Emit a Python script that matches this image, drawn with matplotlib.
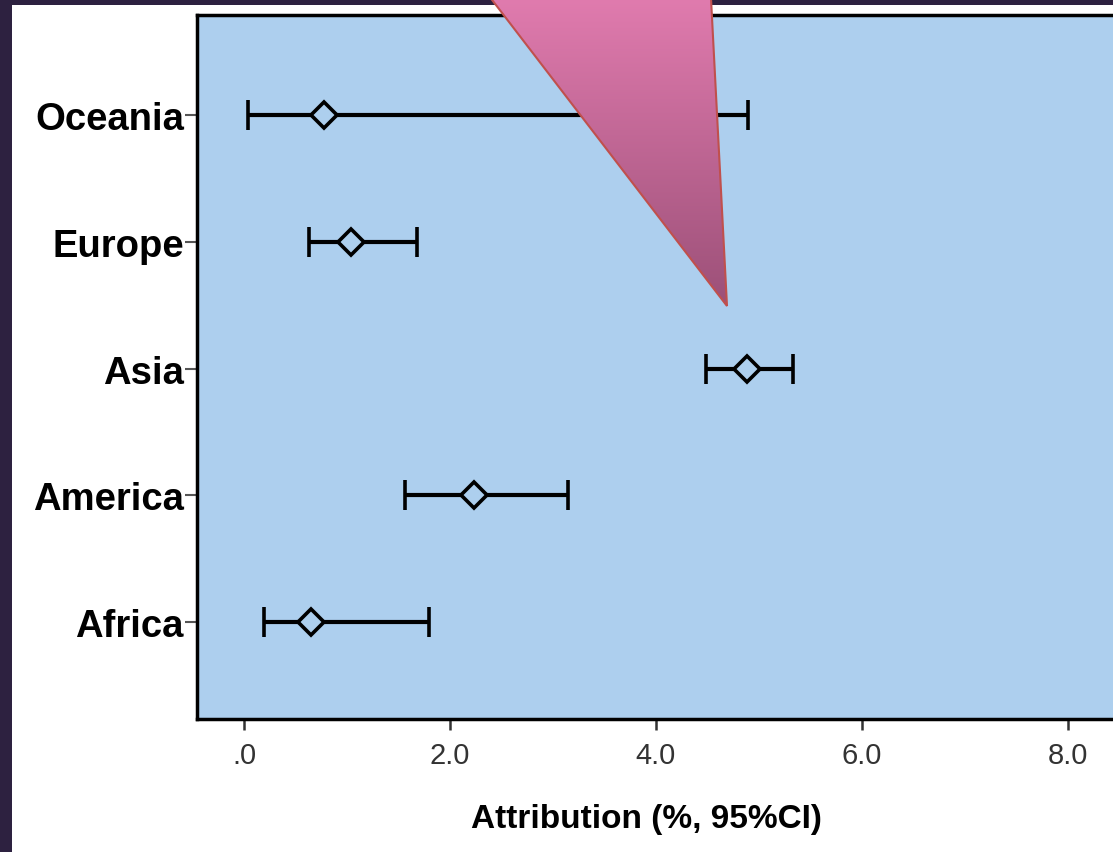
import matplotlib.pyplot as plt
import matplotlib.transforms as mtransforms
import numpy as np
from matplotlib.patches import Polygon, Rectangle

# ---------- data ----------
regions = ["Africa", "America", "Asia", "Europe", "Oceania"]
attribution = [0.65, 2.23, 4.89, 1.04, 0.78]
ci_low = [0.19, 1.56, 4.49, 0.63, 0.04]
ci_high = [1.80, 3.15, 5.33, 1.68, 4.90]
xticks = [0.0, 2.0, 4.0, 6.0, 8.0]
xtick_labels = [".0", "2.0", "4.0", "6.0", "8.0"]

W, H = 1113, 853
bg_blue = "#ADCFEE"

fig = plt.figure(figsize=(W / 100, H / 100), dpi=100)
fig.patch.set_facecolor("#2d2140")
fig.patches.append(Rectangle((12 / W, 0), 1 - 12 / W, 1 - 6 / H, transform=fig.transFigure,
                             facecolor="white", edgecolor="none", zorder=-5))

ax = fig.add_axes([197 / W, 1 - 720 / H, 1 - 197 / W, (720 - 16) / H])
ax.set_facecolor(bg_blue)

y = np.arange(1, len(regions) + 1)
x = np.array(attribution)
err = [x - np.array(ci_low), np.array(ci_high) - x]
ax.errorbar(x, y, xerr=err, fmt="D", color="black", ecolor="black",
            elinewidth=3, capsize=11, capthick=3.2,
            markersize=13, markerfacecolor=bg_blue, markeredgecolor="black",
            markeredgewidth=2.6, zorder=3)

ax.set_xlim(-0.456, 8.44)
ax.set_ylim(0.235, 5.789)

ax.set_yticks(y)
ax.set_yticklabels(regions, fontsize=27.5, fontweight="bold", family=["Liberation Sans", "DejaVu Sans"])
shift = mtransforms.ScaledTranslation(0, -5 / 100, fig.dpi_scale_trans)
for lab in ax.get_yticklabels():
    lab.set_transform(lab.get_transform() + shift)
ax.set_xticks(xticks)
ax.set_xticklabels(xtick_labels, fontsize=21, color="#333333",
                   family=["Liberation Sans Narrow", "Liberation Sans", "DejaVu Sans"])
ax.tick_params(axis="y", length=8.5, width=1.5, color="#555555", pad=1)
ax.tick_params(axis="x", length=8, width=1.8, color="#333333", pad=8)

ax.set_xlabel("Attribution (%, 95%CI)", fontsize=24, fontweight="bold",
              family=["Liberation Sans", "DejaVu Sans"])
ax.xaxis.set_label_coords((646 - 197) / (W - 197), -0.12)

for side in ["left", "top", "bottom"]:
    ax.spines[side].set_linewidth(2.5)
    ax.spines[side].set_color("black")
ax.spines["right"].set_visible(False)

# ---------- pink callout pointer ----------
over = fig.add_axes([0, 0, 1, 1], zorder=10)
over.set_xlim(0, W)
over.set_ylim(H, 0)
over.axis("off")
tri = Polygon([(476, -20), (710, -20), (727, 307)], closed=True,
              facecolor="none", edgecolor="#C0504D", linewidth=1.5, zorder=3)
over.add_patch(tri)
grad = np.linspace(0, 1, 256).reshape(-1, 1)
top_c = np.array([0xE0, 0x7B, 0xAE]) / 255
bot_c = np.array([0x9C, 0x50, 0x78]) / 255
img = top_c[None, None, :] * (1 - grad[..., None]) + bot_c[None, None, :] * grad[..., None]
im = over.imshow(img, extent=[476, 727, 307, 0], aspect="auto", zorder=2)
im.set_clip_path(tri)

fig.savefig("out.png", dpi=100, facecolor=fig.get_facecolor())
